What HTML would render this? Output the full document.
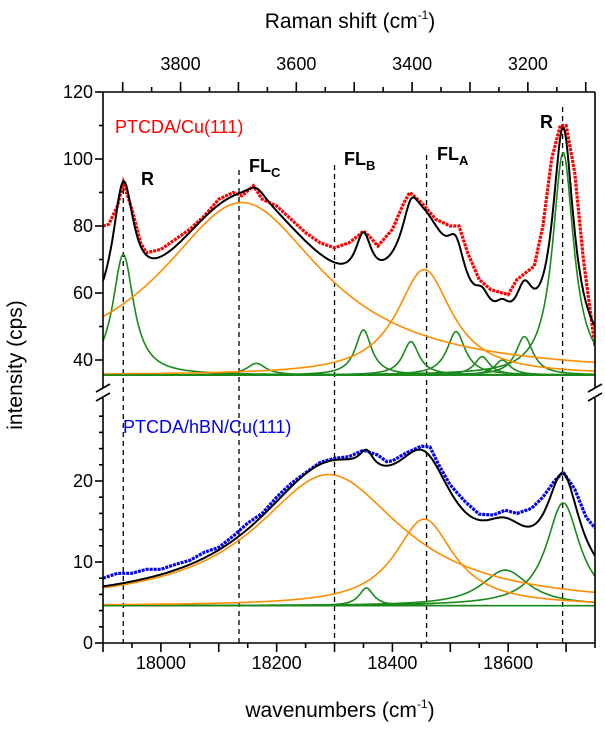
<!DOCTYPE html>
<html><head><meta charset="utf-8"><style>
body{margin:0;background:#fff}
svg text{font-family:"Liberation Sans",sans-serif}
</style></head><body>
<svg id="c" width="605" height="725" xmlns="http://www.w3.org/2000/svg"></svg>
<script>
const upperBase = 35.5;
const upperGreen = [[17935,36,22],[18165,3.5,20],[18350,13.5,17],[18432,10,17],[18510,13,19],[18555,5.5,16],[18590,4.5,16],[18628,11.5,18],[18695,66.5,22]];
const upperOrange = [[18140,51.5,172],[18455,31.5,58]];
const redWn = [17900,17910,17925,17935,17950,17965,17975,18000,18025,18050,18075,18100,18125,18140,18160,18175,18200,18225,18250,18275,18300,18325,18340,18350,18360,18375,18400,18420,18430,18450,18475,18500,18515,18530,18550,18570,18590,18600,18615,18630,18645,18660,18675,18690,18700,18715,18730,18750];
const redVal = [80,80.5,86,93,85,75,72,73,76,79,83,88,90,89,92,88,86,82,78,75,73.5,75,77,78.5,77,74,79,87,90,87,82,80,80,72,64,61,60,59.5,64,66,68,80,100,110,110,96,70,44];
const lowerBase = 4.6;
const lowerGreen = [[18355,2.2,15],[18595,4.4,50],[18695,12.7,35]];
const lowerOrange = [[18290,16.2,155],[18455,10.7,62]];
const blueWn = [17900,17925,17950,17975,18000,18025,18050,18075,18100,18125,18150,18175,18200,18225,18250,18275,18300,18325,18350,18375,18390,18400,18425,18450,18465,18480,18500,18525,18550,18575,18595,18615,18640,18660,18680,18695,18715,18735,18750];
const blueVal = [8,8.6,8.6,9.1,9.1,9.7,10.2,11.2,11.8,13.2,14.8,16,18,19.7,21,22.3,22.8,23,23.8,23.2,22.4,22.5,23.5,24.3,24.2,22,19.5,17.5,15.9,15.8,16.4,16,16.6,18,20,21.1,19,15.5,14.2];
const dashWn = [17935,18135,18300,18459,18694];
const dashTop = [180,170,165,155,107];
const bottomTicks = [18000,18200,18400,18600];
const topTicks = [3800,3600,3400,3200];
const upperTicks = [40,60,80,100,120];
const lowerTicks = [0,10,20];
const laser = 21834;

const NS="http://www.w3.org/2000/svg", svg=document.getElementById('c');
const X0=103,X1=595;
const x=w=>X0+(w-17900)*(X1-X0)/850;
const yU=v=>92+(120-v)*67/20;
const yL=v=>643-v*8.1;
function el(t,a,p){const e=document.createElementNS(NS,t);for(const k in a)e.setAttribute(k,a[k]);(p||svg).appendChild(e);return e;}
function txt(s,a){const e=el('text',a);e.textContent=s;return e;}
const clipU=el('clipPath',{id:'cu'});el('rect',{x:X0,y:92,width:X1-X0,height:296},clipU);
const clipL=el('clipPath',{id:'cl'});el('rect',{x:X0,y:400,width:X1-X0,height:243},clipL);
const lor=(w,p)=>p[1]/(1+((w-p[0])/p[2])**2);
function curve(fn,ys,color,clip,name,wd){
  let d='';for(let w=17900;w<=18750;w+=2){d+=(d?'L':'M')+x(w).toFixed(1)+','+ys(fn(w)).toFixed(1);}
  const p=el('path',{d,fill:'none',stroke:color,'stroke-width':wd||1.6,'clip-path':`url(#${clip})`});
  
  
}
function dataLine(ws,vs,ys,color,clip,name){
  let d='';ws.forEach((w,i)=>{d+=(i?'L':'M')+x(w).toFixed(1)+','+ys(vs[i]).toFixed(1);});
  const p=el('path',{d,fill:'none',stroke:color,'stroke-width':3.2,'stroke-dasharray':'3 1','clip-path':`url(#${clip})`});
  
  
}
dashWn.forEach((w,i)=>{const l=el('line',{x1:x(w),x2:x(w),y1:dashTop[i],y2:643,stroke:'#000','stroke-width':1.3,'stroke-dasharray':'5 4'});

});
dataLine(redWn,redVal,yU,'#f00','cu','red-data-ptcda-cu');
upperGreen.forEach(p=>curve(w=>upperBase+lor(w,p),yU,'#1a8a1a','cu','upper-green-component'));
upperOrange.forEach(p=>curve(w=>upperBase+lor(w,p),yU,'#ff8c00','cu','upper-orange-component'));
curve(w=>upperBase+[...upperGreen,...upperOrange].reduce((s,p)=>s+lor(w,p),0),yU,'#000','cu','upper-fit-total',2);
dataLine(blueWn,blueVal,yL,'#0000f0','cl','blue-data-ptcda-hbn');
lowerGreen.forEach(p=>curve(w=>lowerBase+lor(w,p),yL,'#1a8a1a','cl','lower-green-component'));
lowerOrange.forEach(p=>curve(w=>lowerBase+lor(w,p),yL,'#ff8c00','cl','lower-orange-component'));
curve(w=>lowerBase+[...lowerGreen,...lowerOrange].reduce((s,p)=>s+lor(w,p),0),yL,'#000','cl','lower-fit-total',2);
el('line',{x1:X0,x2:X1,y1:yL(lowerBase),y2:yL(lowerBase),stroke:'#1a8a1a','stroke-width':1.6});
el('line',{x1:X0,x2:X1,y1:yU(upperBase),y2:yU(upperBase),stroke:'#1a8a1a','stroke-width':1.6});
const ax={stroke:'#000','stroke-width':1.6};
el('line',{x1:X0,x2:X1,y1:92,y2:92,...ax});
el('line',{x1:X0,x2:X1,y1:643,y2:643,...ax});
el('line',{x1:X0,x2:X0,y1:92,y2:388,...ax});el('line',{x1:X1,x2:X1,y1:92,y2:388,...ax});
el('line',{x1:X0,x2:X0,y1:398,y2:643,...ax});el('line',{x1:X1,x2:X1,y1:398,y2:643,...ax});
[X0,X1].forEach(xx=>{el('line',{x1:xx-7,x2:xx+7,y1:392,y2:384,...ax});el('line',{x1:xx-7,x2:xx+7,y1:401,y2:393,...ax});});
for(let v=40;v<=120;v+=10){el('line',{x1:X0-(v%20?4:8),x2:X0,y1:yU(v),y2:yU(v),...ax});}
for(let v=0;v<=28;v+=2){el('line',{x1:X0-(v%10?4:8),x2:X0,y1:yL(v),y2:yL(v),...ax});}
upperTicks.forEach(v=>{const t=txt(v,{x:X0-10,y:yU(v)+6,'font-size':18,'text-anchor':'end'});});
lowerTicks.forEach(v=>{const t=txt(v,{x:X0-10,y:yL(v)+6,'font-size':18,'text-anchor':'end'});});
for(let w=17900;w<=18750;w+=50){el('line',{x1:x(w),x2:x(w),y1:643,y2:643+((w%100)?5:9),...ax});}
bottomTicks.forEach(w=>{const t=txt(w,{x:x(w),y:669,'font-size':18,'text-anchor':'middle'});});
for(let r=3100;r<=3950;r+=50){const xx=x(laser-r);if(xx<X0-0.5||xx>X1+0.5)continue;el('line',{x1:xx,x2:xx,y1:92,y2:92-((r%100)?5:10),...ax});}
topTicks.forEach(r=>{const t=txt(r,{x:x(laser-r),y:70,'font-size':18,'text-anchor':'middle'});});
</script>
<svg width="605" height="725" style="position:absolute;left:0;top:0" xmlns="http://www.w3.org/2000/svg" font-family="Liberation Sans, sans-serif">
<text x="350" y="28" font-size="21" text-anchor="middle">Raman shift (cm<tspan dy="-9" font-size="12">-1</tspan><tspan dy="9">)</tspan></text>
<text x="340" y="717" font-size="21" text-anchor="middle">wavenumbers (cm<tspan dy="-9" font-size="12">-1</tspan><tspan dy="9">)</tspan></text>
<text transform="translate(22,365) rotate(-90)" font-size="21" text-anchor="middle">intensity (cps)</text>
<text x="115" y="133" font-size="18" fill="#f00">PTCDA/Cu(111)</text>
<text x="123" y="433" font-size="18" fill="#0000f0">PTCDA/hBN/Cu(111)</text>
<g font-weight="bold" font-size="18">
<text x="141" y="185">R</text>
<text x="249" y="172">FL<tspan font-size="13" dy="5">C</tspan></text>
<text x="344" y="165">FL<tspan font-size="13" dy="5">B</tspan></text>
<text x="437" y="160">FL<tspan font-size="13" dy="5">A</tspan></text>
<text x="540" y="128">R</text>
</g>
</svg>
</body></html>
